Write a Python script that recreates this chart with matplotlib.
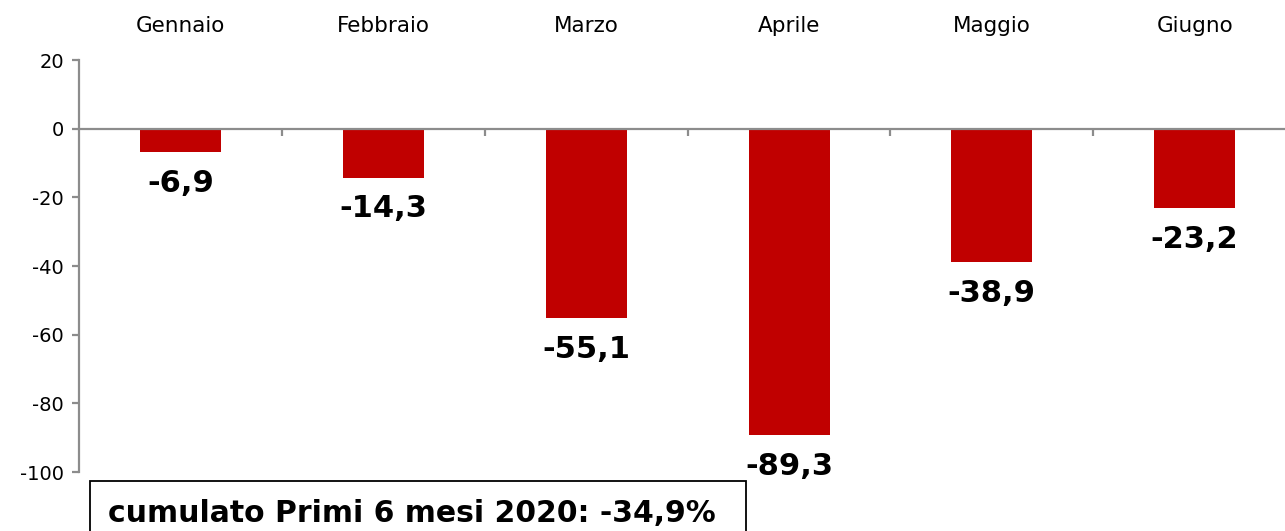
import matplotlib
matplotlib.use('Agg')
import matplotlib.pyplot as plt
import matplotlib.transforms as mtransforms
from matplotlib.patches import Rectangle

mesi = ['Gennaio', 'Febbraio', 'Marzo', 'Aprile', 'Maggio', 'Giugno']
valori = [-6.9, -14.3, -55.1, -89.3, -38.9, -23.2]
nota = 'cumulato Primi 6 mesi 2020: -34,9%'

plt.rcParams['font.family'] = 'DejaVu Sans'
plt.rcParams['axes.unicode_minus'] = False

fig = plt.figure(figsize=(12.85, 5.31), dpi=100)
ax = fig.add_axes([0.0617, 0.111, 0.9469, 0.776])

x = list(range(len(mesi)))
ax.bar(x, valori, width=0.4, color='#c00000', zorder=2)

for xi, v in zip(x, valori):
    ax.annotate(('%.1f' % v).replace('.', ','), (xi, v), xytext=(0, -12),
                textcoords='offset points', ha='center', va='top',
                fontsize=22, fontweight='bold')

ax.set_xlim(-0.5, len(mesi) - 0.5)
ax.set_ylim(-100, 20)
ax.set_yticks(range(-100, 21, 20))

# category boundaries as tick marks on the zero line
ax.set_xticks([i + 0.5 for i in x[:-1]])
ax.set_xticklabels([])
ax.spines['bottom'].set_position(('data', 0))
for s in ['top', 'right']:
    ax.spines[s].set_visible(False)
for s in ['left', 'bottom']:
    ax.spines[s].set_color('#8c8c8c')
    ax.spines[s].set_linewidth(1.6)
ax.tick_params(axis='x', direction='out', length=5, width=1.6, color='#8c8c8c')
ax.tick_params(axis='y', direction='out', length=5, width=1.6, color='#8c8c8c',
               labelsize=14, pad=6)

trans = mtransforms.blended_transform_factory(ax.transData, ax.transAxes)
for xi, m in zip(x, mesi):
    ax.text(xi, 1.082, m, transform=trans, ha='center', va='center', fontsize=15.5)

fig.patches.append(Rectangle((90 / 1285, -0.05), 656 / 1285, (531 - 481) / 531 + 0.05,
                             transform=fig.transFigure, fill=False,
                             edgecolor='black', linewidth=1.3))
fig.text(412 / 1285, 1 - 513 / 531, nota, ha='center', va='center',
         fontsize=21.5, fontweight='bold')

fig.savefig('out.png', dpi=100)
